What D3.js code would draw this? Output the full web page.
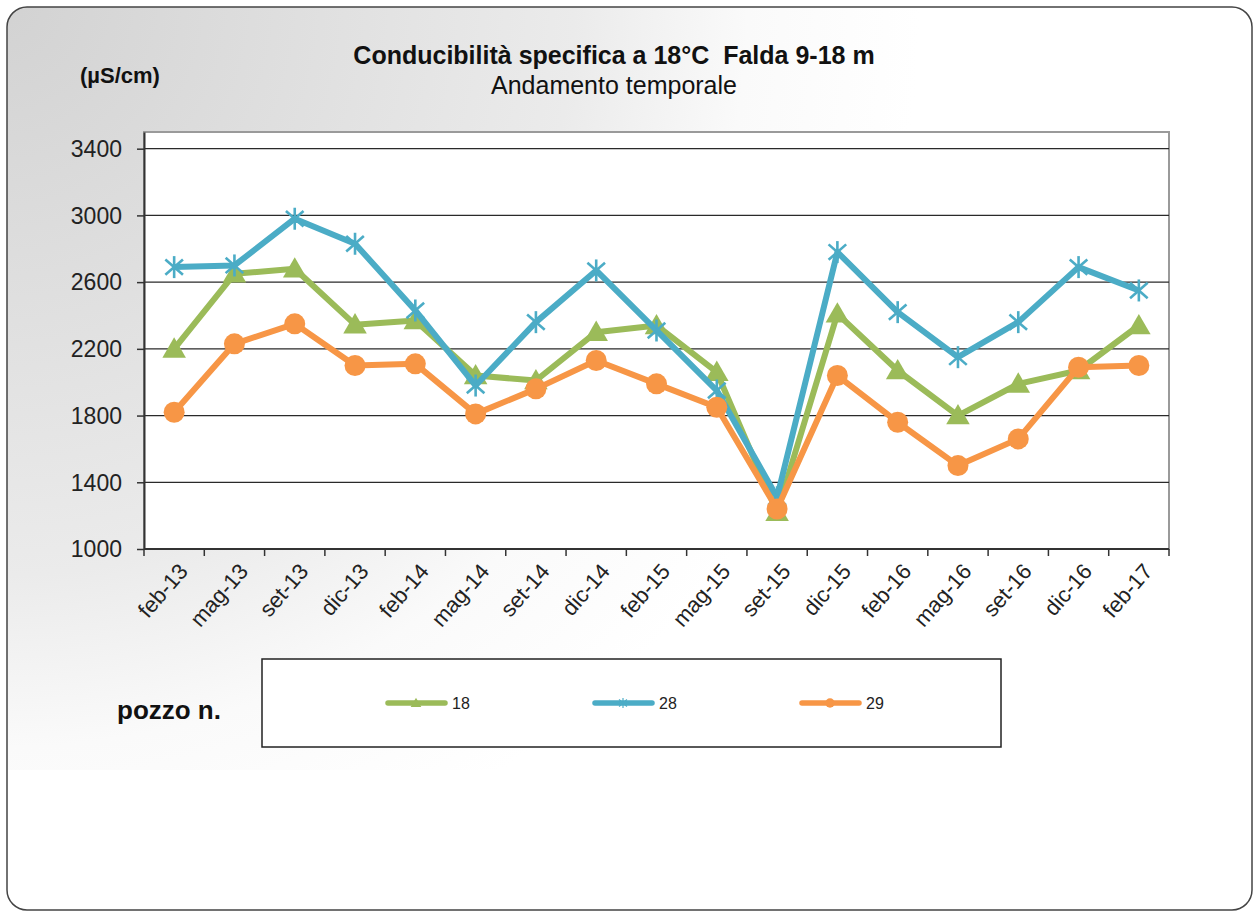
<!DOCTYPE html>
<html>
<head>
<meta charset="utf-8">
<script src="https://cdn.jsdelivr.net/npm/d3@7"></script>
<style>
  body { margin: 0; background: #fff; }
  svg text { font-family: "Liberation Sans", Arial, sans-serif; fill: #111; }
</style>
</head>
<body>
<svg id="chart" width="1255" height="914"></svg>
<script>
// data
const months = ["feb-13","mag-13","set-13","dic-13","feb-14","mag-14","set-14","dic-14","feb-15",
                "mag-15","set-15","dic-15","feb-16","mag-16","set-16","dic-16","feb-17"];
const well18 = [2200,2650,2680,2345,2370,2040,2010,2300,2340,2060,1220,2410,2070,1800,1990,2070,2340];
const well28 = [2690,2700,2980,2830,2430,1980,2360,2670,2310,1950,1310,2780,2420,2150,2360,2690,2550];
const well29 = [1820,2230,2350,2100,2110,1810,1960,2130,1990,1850,1240,2040,1760,1500,1660,2090,2100];
const yTicks = [1000,1400,1800,2200,2600,3000,3400];
const seriesNames = ["18","28","29"];

const colors = {"18": "#9bbb59", "28": "#4bacc6", "29": "#f79646"};
const series = [
  {name: "18", values: well18, marker: "triangle"},
  {name: "28", values: well28, marker: "star"},
  {name: "29", values: well29, marker: "circle"}
];

const svg = d3.select("#chart");

// background: rounded frame + grey gradient from the top-left corner
const defs = svg.append("defs");
const grad = defs.append("radialGradient").attr("id", "bg")
  .attr("gradientUnits", "userSpaceOnUse")
  .attr("cx", 0).attr("cy", 0).attr("r", 1150);
grad.append("stop").attr("offset", "0%").attr("stop-color", "#d2d2d2");
grad.append("stop").attr("offset", "50%").attr("stop-color", "#ebebeb");
grad.append("stop").attr("offset", "65%").attr("stop-color", "#fafafa");
grad.append("stop").attr("offset", "80%").attr("stop-color", "#ffffff");

defs.append("clipPath").attr("id", "frame")
  .append("rect").attr("x", 7).attr("y", 7).attr("width", 1245).attr("height", 903).attr("rx", 20);

svg.append("rect").attr("x", 7).attr("y", 7).attr("width", 1240).attr("height", 763)
  .attr("fill", "url(#bg)").attr("clip-path", "url(#frame)");
svg.append("rect").attr("x", 7).attr("y", 7).attr("width", 1245).attr("height", 903).attr("rx", 20)
  .attr("fill", "none").attr("stroke", "#444").attr("stroke-width", 1.5);

// scales
const x = d3.scaleBand().domain(months).range([144, 1169]).padding(0);
const y = d3.scaleLinear().domain([1000, 3500]).range([549, 132]);

const plot = svg.append("g");
plot.append("rect").attr("x", 144).attr("y", y(3500)).attr("width", 1169 - 144).attr("height", y(1000) - y(3500))
  .attr("fill", "#fff").attr("stroke", "#9a9a9a").attr("stroke-width", 2);

// gridlines
plot.selectAll("line.grid").data(yTicks.slice(1)).enter().append("line")
  .attr("class", "grid")
  .attr("x1", 144).attr("x2", 1169)
  .attr("y1", d => y(d)).attr("y2", d => y(d))
  .attr("stroke", "#2a2a2a").attr("stroke-width", 1.3);

// y axis
const yAxis = plot.append("g").attr("transform", "translate(144,0)")
  .call(d3.axisLeft(y).tickValues(yTicks).tickSize(7).tickSizeOuter(0).tickPadding(15).tickFormat(d3.format("d")));
yAxis.select(".domain").attr("stroke", "#333").attr("stroke-width", 2);
yAxis.selectAll(".tick line").attr("stroke", "#333").attr("stroke-width", 1.5);
yAxis.selectAll(".tick text")
  .attr("dy", "0.34em")
  .style("font-size", "23px").style("fill", "#222")
  .style("font-family", "'Liberation Sans', Arial, sans-serif");

// x axis: ticks on category edges, labels at centres
const xAxis = plot.append("g");
xAxis.append("line").attr("x1", 144).attr("x2", 1169).attr("y1", 549).attr("y2", 549)
  .attr("stroke", "#333").attr("stroke-width", 2);
const edges = months.map(m => x(m)).concat([x.range()[1]]);
xAxis.selectAll("line.tick").data(edges).enter().append("line")
  .attr("class", "tick")
  .attr("x1", d => d).attr("x2", d => d).attr("y1", 549).attr("y2", 556)
  .attr("stroke", "#333").attr("stroke-width", 1.5);
xAxis.selectAll("text").data(months).enter().append("text")
  .attr("transform", d => `translate(${x(d) + x.bandwidth() / 2 + 9},${567}) rotate(-49)`)
  .attr("text-anchor", "end").attr("dy", "0.35em")
  .style("font-size", "22px").style("fill", "#222")
  .text(d => d);

// series
const line = d3.line().x((d, i) => x(months[i]) + x.bandwidth() / 2).y(d => y(d));

function drawMarker(g, type, color, s) {
  if (type === "triangle") {
    g.append("path").attr("d", d3.symbol(d3.symbolTriangle, 240 * s * s)()).attr("fill", color)
      .attr("transform", `translate(0,${2 * s})`);
  } else if (type === "circle") {
    g.append("circle").attr("r", 10.5 * s).attr("fill", color);
  } else {
    const r = 11 * s;
    const arms = [[0, -r, 0, r], [-r * 0.8, -r * 0.7, r * 0.8, r * 0.7], [-r * 0.8, r * 0.7, r * 0.8, -r * 0.7]];
    arms.forEach(a => g.append("line").attr("x1", a[0]).attr("y1", a[1]).attr("x2", a[2]).attr("y2", a[3])
      .attr("stroke", color).attr("stroke-width", 2.6 * s));
  }
}

series.forEach(s => {
  const g = plot.append("g");
  g.append("path").datum(s.values).attr("d", line)
    .attr("fill", "none").attr("stroke", colors[s.name]).attr("stroke-width", 6)
    .attr("stroke-linejoin", "round");
  s.values.forEach((v, i) => {
    const m = g.append("g").attr("transform", `translate(${x(months[i]) + x.bandwidth() / 2},${y(v)})`);
    drawMarker(m, s.marker, colors[s.name], 1);
  });
});

// titles
svg.append("text").attr("x", 614).attr("y", 64)
  .attr("text-anchor", "middle").style("font-size", "25px").style("font-weight", "bold")
  .style("white-space", "pre")
  .text("Conducibilità specifica a 18°C  Falda 9-18 m");
svg.append("text").attr("x", 614).attr("y", 94)
  .attr("text-anchor", "middle").style("font-size", "25px")
  .text("Andamento temporale");
svg.append("text").attr("x", 80).attr("y", 83)
  .style("font-size", "22px").style("font-weight", "bold")
  .text("(µS/cm)");

// legend
svg.append("text").attr("x", 117).attr("y", 719)
  .style("font-size", "26px").style("font-weight", "bold")
  .text("pozzo n.");
svg.append("rect").attr("x", 262).attr("y", 659).attr("width", 739).attr("height", 88)
  .attr("fill", "#fff").attr("stroke", "#222").attr("stroke-width", 1.5);

const legendX = d3.scalePoint().domain(seriesNames).range([388, 802]);
series.forEach(s => {
  const lx = legendX(s.name);
  const g = svg.append("g").attr("transform", `translate(${lx},703)`);
  g.append("line").attr("x1", 0).attr("x2", 57).attr("y1", 0).attr("y2", 0)
    .attr("stroke", colors[s.name]).attr("stroke-width", 5.5).attr("stroke-linecap", "round");
  const m = g.append("g").attr("transform", "translate(28,0)");
  drawMarker(m, s.marker, colors[s.name], 0.45);
  g.append("text").attr("x", 64).attr("dy", "0.36em").style("font-size", "16px").style("fill", "#222")
    .text(s.name);
});
</script>
</body>
</html>
